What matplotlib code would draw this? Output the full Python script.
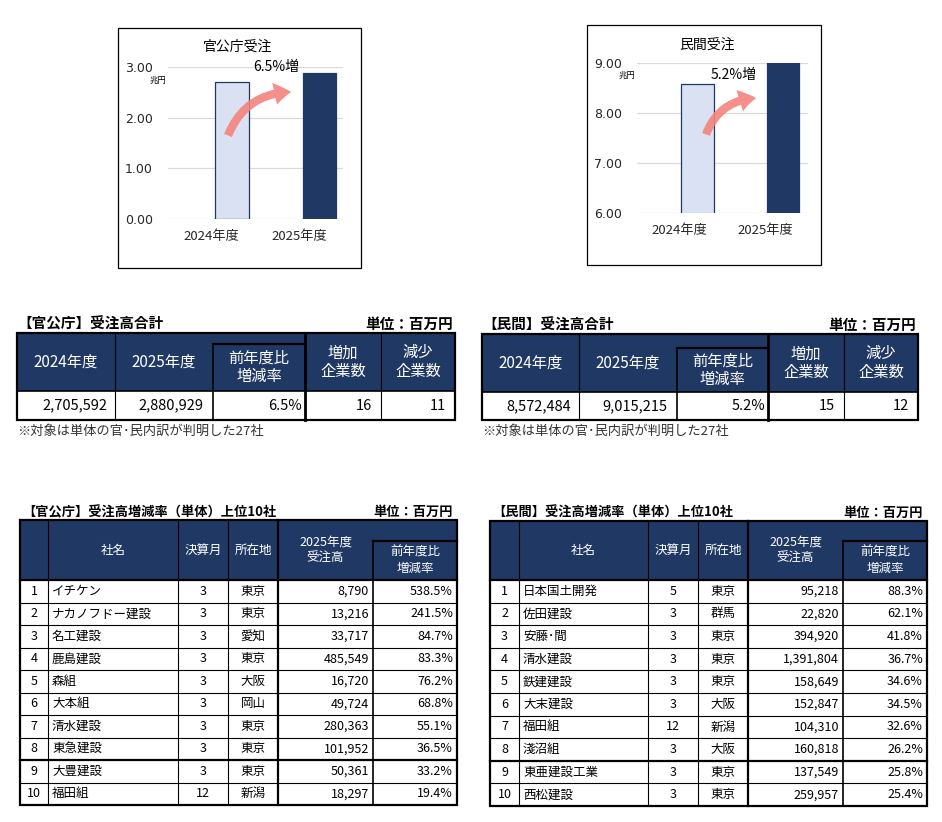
import numpy as np
import matplotlib
matplotlib.use("Agg")
import matplotlib.pyplot as plt
from matplotlib.patches import Rectangle, FancyArrowPatch

plt.rcParams['font.family'] = ['Noto Sans CJK JP', 'DejaVu Sans']

# ---- data ----
years = ['2024年度', '2025年度']
gov_totals = [2705592, 2880929]      # 百万円
priv_totals = [8572484, 9015215]
gov_rate, gov_inc, gov_dec = 6.5, 16, 11
priv_rate, priv_inc, priv_dec = 5.2, 15, 12
note = '※対象は単体の官･民内訳が判明した27社'

gov_names = ['イチケン', 'ナカノフドー建設', '名工建設', '鹿島建設', '森組',
             '大本組', '清水建設', '東急建設', '大豊建設', '福田組']
gov_month = [3, 3, 3, 3, 3, 3, 3, 3, 3, 12]
gov_loc = ['東京', '東京', '愛知', '東京', '大阪', '岡山', '東京', '東京', '東京', '新潟']
gov_amt = [8790, 13216, 33717, 485549, 16720, 49724, 280363, 101952, 50361, 18297]
gov_pct = [538.5, 241.5, 84.7, 83.3, 76.2, 68.8, 55.1, 36.5, 33.2, 19.4]

priv_names = ['日本国土開発', '佐田建設', '安藤･間', '清水建設', '鉄建建設',
              '大末建設', '福田組', '淺沼組', '東亜建設工業', '西松建設']
priv_month = [5, 3, 3, 3, 3, 3, 12, 3, 3, 3]
priv_loc = ['東京', '群馬', '東京', '東京', '東京', '大阪', '新潟', '大阪', '東京', '東京']
priv_amt = [95218, 22820, 394920, 1391804, 158649, 152847, 104310, 160818, 137549, 259957]
priv_pct = [88.3, 62.1, 41.8, 36.7, 34.6, 34.5, 32.6, 26.2, 25.8, 25.4]

NAVY = '#203864'
LIGHT = '#D9E1F2'
W, H = 942, 822

fig = plt.figure(figsize=(W / 100, H / 100), dpi=100)


def bar_chart(rect, vals, ylim, yticks, offset):
    l, t, r, b = rect
    ax = fig.add_axes([l / W, 1 - b / H, (r - l) / W, (b - t) / H])
    ax.set_facecolor('none')
    x = np.arange(len(vals))
    ax.bar(x + offset, vals, width=0.38, color=[LIGHT, NAVY], edgecolor=NAVY,
           linewidth=0.9, zorder=3)
    ax.set_xlim(-0.5, 1.5)
    ax.set_ylim(*ylim)
    ax.set_yticks(yticks)
    ax.set_yticklabels([f'{v:.2f}' for v in yticks], fontsize=9, family='DejaVu Sans')
    ax.set_xticks(x)
    ax.set_xticklabels(years, fontsize=9.5)
    ax.grid(axis='y', color='#D9D9D9', linewidth=0.9, zorder=0)
    for s in ax.spines.values():
        s.set_visible(False)
    ax.tick_params(length=0, axis='y', pad=11, colors='#262626')
    ax.tick_params(length=0, axis='x', pad=8, colors='#262626')
    return ax


bar_chart((168, 67, 343, 219), [v / 1e6 for v in gov_totals], (0, 3), [0, 1, 2, 3], 0.23)
bar_chart((637, 63, 808, 213), [v / 1e6 for v in priv_totals], (6, 9), [6, 7, 8, 9], 0.21)

# overlay axes in pixel coordinates for frames, tables and notes
ov = fig.add_axes([0, 0, 1, 1])
ov.set_xlim(0, W)
ov.set_ylim(H, 0)
ov.axis('off')
ov.patch.set_visible(False)


def line(x0, y0, x1, y1, lw=0.8, c='black'):
    ov.plot([x0, x1], [y0, y1], color=c, lw=lw, solid_capstyle='projecting')


def rect(x0, y0, x1, y1, fc='none', ec='none', lw=0.8):
    ov.add_patch(Rectangle((x0, y0), x1 - x0, y1 - y0, fc=fc, ec=ec, lw=lw))


def txt(x, y, s, ha='center', size=9, color='black', weight='normal', ls=1.3):
    ov.text(x, y, s, ha=ha, va='center', fontsize=size, color=color,
            fontweight=weight, linespacing=ls)


# chart frames and annotations
rect(118, 28, 361, 268, ec='black', lw=0.9)
txt(238, 47, '官公庁受注', size=10)
txt(158, 80, '兆円', size=6)
txt(276, 67, f'{gov_rate}%増', size=10)
rect(587, 25, 821, 265, ec='black', lw=0.9)
txt(707, 45, '民間受注', size=10)
txt(627, 75, '兆円', size=6)
txt(734, 75, f'{priv_rate}%増', size=10)

for p0, p1 in [((227, 138), (294, 92)), ((705, 137), (759, 98))]:
    ov.add_patch(FancyArrowPatch(p0, p1, connectionstyle='arc3,rad=-0.35',
                                 arrowstyle='simple,head_length=12,head_width=16,tail_width=6',
                                 fc='#F4837D', ec='none', alpha=0.9))


def summary_table(cols, ytop, ysub, yhdr, ybot, title, vals):
    x0, x1 = cols[0], cols[-1]
    txt(x0, ytop - 9, title, ha='left', size=10.5, weight='bold')
    txt(x1 - 2, ytop - 9, '単位：百万円', ha='right', size=10.5, weight='bold')
    rect(x0, ytop, x1, yhdr, fc=NAVY)
    heads = ['2024年度', '2025年度', '前年度比\n増減率', '増加\n企業数', '減少\n企業数']
    for i, h in enumerate(heads):
        cy = (ysub + yhdr) / 2 if i == 2 else (ytop + yhdr) / 2
        txt((cols[i] + cols[i + 1]) / 2, cy, h, size=11, color='white', ls=1.1)
    # inner lines
    line(cols[1], ytop, cols[1], ybot)
    line(cols[2], ysub, cols[2], ybot, lw=1.2)
    line(cols[2], ysub, cols[3], ysub, lw=1.6)
    line(cols[3], ytop, cols[3], ybot, lw=2.0)
    line(cols[4], ytop, cols[4], ybot)
    line(x0, yhdr, x1, yhdr, lw=1.2)
    rect(x0, ytop, x1, ybot, ec='black', lw=1.6)
    cy = (yhdr + ybot) / 2
    pads = [8, 10, 3, 9, 9]
    for i, v in enumerate(vals):
        txt(cols[i + 1] - pads[i], cy, v, ha='right', size=10.5)
    txt(x0, ybot + 11, note, ha='left', size=9.5, color='#333333')


summary_table([17, 115, 213, 305, 381, 455], 333, 344, 391, 420, '【官公庁】受注高合計',
              [f'{gov_totals[0]:,}', f'{gov_totals[1]:,}', f'{gov_rate}%', str(gov_inc), str(gov_dec)])
summary_table([482, 579, 677, 768, 844, 918], 334, 348, 392, 420, '【民間】受注高合計',
              [f'{priv_totals[0]:,}', f'{priv_totals[1]:,}', f'{priv_rate}%', str(priv_inc), str(priv_dec)])


def top_table(cols, ytop, ysub, yhdr, ybot, title, names, months, locs, amts, pcts):
    x0, x1 = cols[0], cols[-1]
    txt(x0 + 2, ytop - 8, title, ha='left', size=9.5, weight='bold')
    txt(x1 - 4, ytop - 8, '単位：百万円', ha='right', size=9.5, weight='bold')
    rect(x0, ytop, x1, yhdr, fc=NAVY)
    hy = (ytop + yhdr) / 2
    txt((cols[1] + cols[2]) / 2, hy, '社名', color='white')
    txt((cols[2] + cols[3]) / 2, hy, '決算月', color='white')
    txt((cols[3] + cols[4]) / 2, hy, '所在地', color='white')
    txt((cols[4] + cols[5]) / 2, hy, '2025年度\n受注高', color='white')
    txt((cols[5] + cols[6]) / 2, (ysub + yhdr) / 2, '前年度比\n増減率', color='white')
    n = len(names)
    rh = (ybot - yhdr) / n
    for c in cols[1:4]:
        line(c, ytop, c, ybot)
    line(cols[4], ytop, cols[4], ybot, lw=1.6)
    line(cols[5], ysub, cols[5], ybot, lw=1.2)
    line(cols[5], ysub, x1, ysub, lw=1.6)
    for i in range(n):
        y = yhdr + i * rh
        line(x0, y, x1, y, lw=1.6 if i in (0, 8) else 0.8)
        cy = y + rh / 2
        txt((cols[0] + cols[1]) / 2, cy, str(i + 1))
        txt(cols[1] + 4, cy, names[i], ha='left')
        txt((cols[2] + cols[3]) / 2, cy, str(months[i]))
        txt((cols[3] + cols[4]) / 2, cy, locs[i])
        txt(cols[5] - 4, cy, f'{amts[i]:,}', ha='right')
        txt(cols[6] - 4, cy, f'{pcts[i]:.1f}%', ha='right')
    rect(x0, ytop, x1, ybot, ec='black', lw=1.6)


top_table([20, 48, 178, 228, 278, 373, 457], 520, 541, 580, 805,
          '【官公庁】受注高増減率（単体）上位10社',
          gov_names, gov_month, gov_loc, gov_amt, gov_pct)
top_table([490, 519, 648, 698, 748, 843, 927], 521, 541, 580, 806,
          '【民間】受注高増減率（単体）上位10社',
          priv_names, priv_month, priv_loc, priv_amt, priv_pct)

fig.savefig('out.png', dpi=100)
